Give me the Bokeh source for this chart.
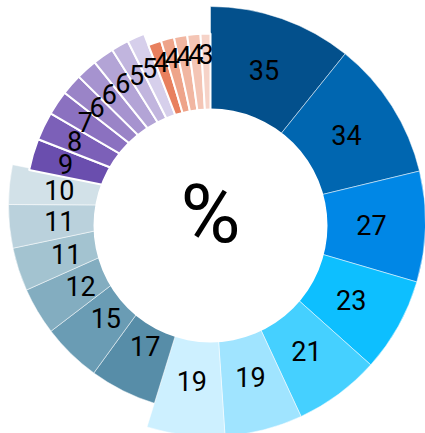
import math
from bokeh.plotting import figure
from bokeh.models import Range1d, ColumnDataSource
from bokeh.core.properties import value
from bokeh.embed import file_html
from bokeh.resources import INLINE

# ---- data ----
values = [35, 34, 27, 23, 21, 19, 19,
          17, 15, 12, 11, 11, 10,
          9, 8, 7, 6, 6, 6, 5, 5,
          4, 4, 4, 4, 3]
groups = (["blue"] * 7 + ["gray"] * 6 + ["purple"] * 8 + ["orange"] * 5)
colors = ["#03508c", "#0066b0", "#0087e6", "#0dbfff", "#45d0ff", "#a0e4ff", "#cdf0ff",
          "#578da8", "#6a9cb4", "#83adc0", "#a3c3d0", "#bad1dc", "#d2e1e8",
          "#6a4eae", "#7c60b8", "#8b71c0", "#9a84c7", "#a693cf", "#b3a4d6", "#c1b5de", "#d6cfeb",
          "#e8805e", "#eea48a", "#f1b6a1", "#f4c5b5", "#f6d3c8"]
center_label = "%"

# ---- layout (screen-pixel style coordinates) ----
W, H = 425, 433
def Y(sy):
    return H - sy

LAYOUT = {
    "blue":   dict(cx=210, cy=221, r=215, rl=161, lw=0.5),
    "gray":   dict(cx=215, cy=205, r=207, rl=157, lw=0.5),
    "purple": dict(cx=210, cy=206, r=185, rl=151, lw=2.0),
    "orange": dict(cx=210, cy=206, r=173, rl=153, lw=2.0),
}
HOLE = dict(cx=210, cy=225, r=117)

total = float(sum(values))
k = 2 * math.pi / total

p = figure(width=W, height=H, output_backend="svg", toolbar_location=None,
           x_range=Range1d(0, W), y_range=Range1d(0, H),
           min_border=0, outline_line_color=None)
p.axis.visible = False
p.grid.visible = False
p.background_fill_color = "white"
p.border_fill_color = "white"

for g in ["blue", "gray", "purple", "orange"]:
    lay = LAYOUT[g]
    xs, ys, st, en, cols, lx, ly, txt = [], [], [], [], [], [], [], []
    cum = 0.0
    for v, gg, c in zip(values, groups, colors):
        a_end = math.pi / 2 - cum * k
        a_start = math.pi / 2 - (cum + v) * k
        cum += v
        if gg != g:
            continue
        xs.append(lay["cx"]); ys.append(Y(lay["cy"]))
        st.append(a_start); en.append(a_end); cols.append(c)
        mid = (a_start + a_end) / 2
        lx.append(lay["cx"] + lay["rl"] * math.cos(mid))
        ly.append(Y(lay["cy"] - lay["rl"] * math.sin(mid)))
        txt.append(str(v))
    src = ColumnDataSource(dict(x=xs, y=ys, s=st, e=en, c=cols))
    p.wedge(x="x", y="y", radius=lay["r"], start_angle="s", end_angle="e",
            fill_color="c", line_color="white", line_width=lay["lw"], source=src)
    lay["labels"] = ColumnDataSource(dict(x=lx, y=ly, t=txt))

# hole
p.scatter(x=[HOLE["cx"]], y=[Y(HOLE["cy"])], size=2 * HOLE["r"], marker="circle",
          fill_color="white", line_color=None)

for g in ["blue", "gray", "purple", "orange"]:
    p.text(x="x", y="y", text="t", source=LAYOUT[g]["labels"],
           text_font=value("Roboto"), text_font_size="27px", text_color="#000000",
           text_align="center", text_baseline="middle")

p.text(x=[210], y=[Y(213)], text=[center_label], text_font=value("Roboto"),
       text_font_size="82px", text_color="#000000", text_align="center",
       text_baseline="middle")

open("out.html", "w").write(file_html(p, INLINE))
